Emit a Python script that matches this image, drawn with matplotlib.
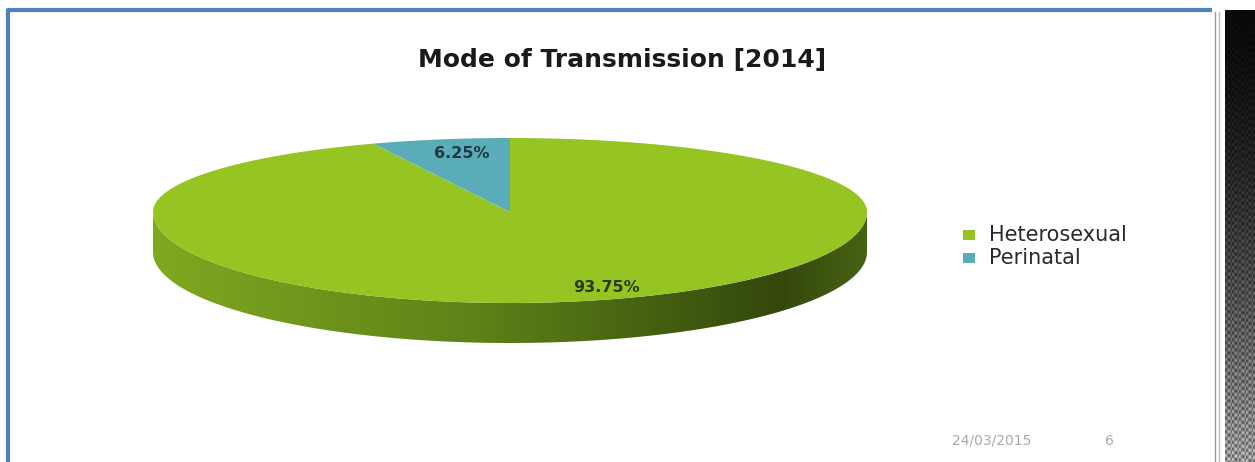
import numpy as np
import matplotlib
matplotlib.use('Agg')
import matplotlib.pyplot as plt
from matplotlib.patches import Polygon, Rectangle

# Chart data
title = "Mode of Transmission [2014]"
categories = ["Heterosexual", "Perinatal"]
shares = [93.75, 6.25]
colors = ["#95c423", "#5aacb8"]
footer_date = "24/03/2015"
footer_page = "6"

# --- canvas in pixel coordinates ---
W, H = 1255, 462
fig = plt.figure(figsize=(W / 100, H / 100), dpi=100)
ax = fig.add_axes([0, 0, 1, 1])
ax.set_xlim(0, W)
ax.set_ylim(H, 0)
ax.axis('off')

# slide frame
ax.plot([8, 8, 1212], [462, 10, 10], color="#4f81bd", lw=3, solid_capstyle='butt')
ax.plot([1215, 1215], [12, 462], color="#9a9a9a", lw=1)
ax.plot([1219, 1219], [12, 462], color="#bdbdbd", lw=1)

# right textured strip
yy, xx = np.mgrid[0:H, 0:30]
base = 0.04 + 0.55 * (yy / H) ** 1.6
dots = 0.5 + 0.5 * np.cos(2 * np.pi * xx / 7) * np.cos(2 * np.pi * (yy + 3 * (xx // 7)) / 7)
strip = np.clip(base * (0.6 + 0.8 * dots), 0, 1)
ax.imshow(strip, cmap='gray', vmin=0, vmax=1, extent=[1225, 1255, H, 10],
          aspect='auto', zorder=1)

# --- 3D pie (slight perspective: near half taller than far half) ---
cx, cy, a, b_far, b_near, depth = 510, 212, 357, 74, 91, 40


def arc(t0, t1, n=240, dy=0):
    t = np.radians(np.linspace(t0, t1, n))
    s = np.sin(t)
    b = np.where(s >= 0, b_far, b_near)
    return np.column_stack([cx + a * np.cos(t), cy - b * s + dy])


# side wall (front half) with gradient
top_front = arc(180, 360)
bottom_front = arc(360, 180, dy=depth)
side = Polygon(np.vstack([top_front, bottom_front]), closed=True,
               facecolor='none', edgecolor='none')
ax.add_patch(side)
grad_x = np.array([0.0, 0.45, 0.88, 1.0])
grad_c = np.array([[0x80, 0xa8, 0x20], [0x5e, 0x82, 0x18],
                   [0x34, 0x48, 0x0c], [0x48, 0x62, 0x14]]) / 255
xs = np.linspace(0, 1, 400)
row = np.column_stack([np.interp(xs, grad_x, grad_c[:, k]) for k in range(3)])
img = np.repeat(row[None, :, :], 2, axis=0)
im = ax.imshow(img, extent=[cx - a, cx + a, cy + b_near + depth, cy - 5],
               aspect='auto', zorder=2)
im.set_clip_path(side)

# top face slices, clockwise from 12 o'clock
start = 90.0
for name, val, col in zip(categories, shares, colors):
    sweep = 360 * val / 100
    end = start - sweep
    pts = np.vstack([[cx, cy], arc(start, end)])
    ax.add_patch(Polygon(pts, closed=True, facecolor=col, edgecolor='none', zorder=3))
    start = end

ax.text(606, 288, "93.75%", ha='center', va='center', fontsize=11.5,
        fontweight='bold', color="#2b3a10", zorder=4)
ax.text(462, 153, "6.25%", ha='center', va='center', fontsize=11.5,
        fontweight='bold', color="#1f3a40", zorder=4)

# title
ax.text(622, 60, title, ha='center', va='center', fontsize=18,
        fontweight='bold', color="#1a1a1a")

# legend
for i, (name, col) in enumerate(zip(categories, colors)):
    y = 235 + i * 23
    ax.add_patch(Rectangle((963, y - 5), 12, 10, facecolor=col, edgecolor='none'))
    ax.text(989, y, name, ha='left', va='center', fontsize=15, color="#2a2a2a")

# footer
ax.text(952, 441, footer_date, ha='left', va='center', fontsize=10, color="#a9a9a9")
ax.text(1105, 441, footer_page, ha='left', va='center', fontsize=10, color="#a9a9a9")

fig.savefig("out.png", dpi=100)
